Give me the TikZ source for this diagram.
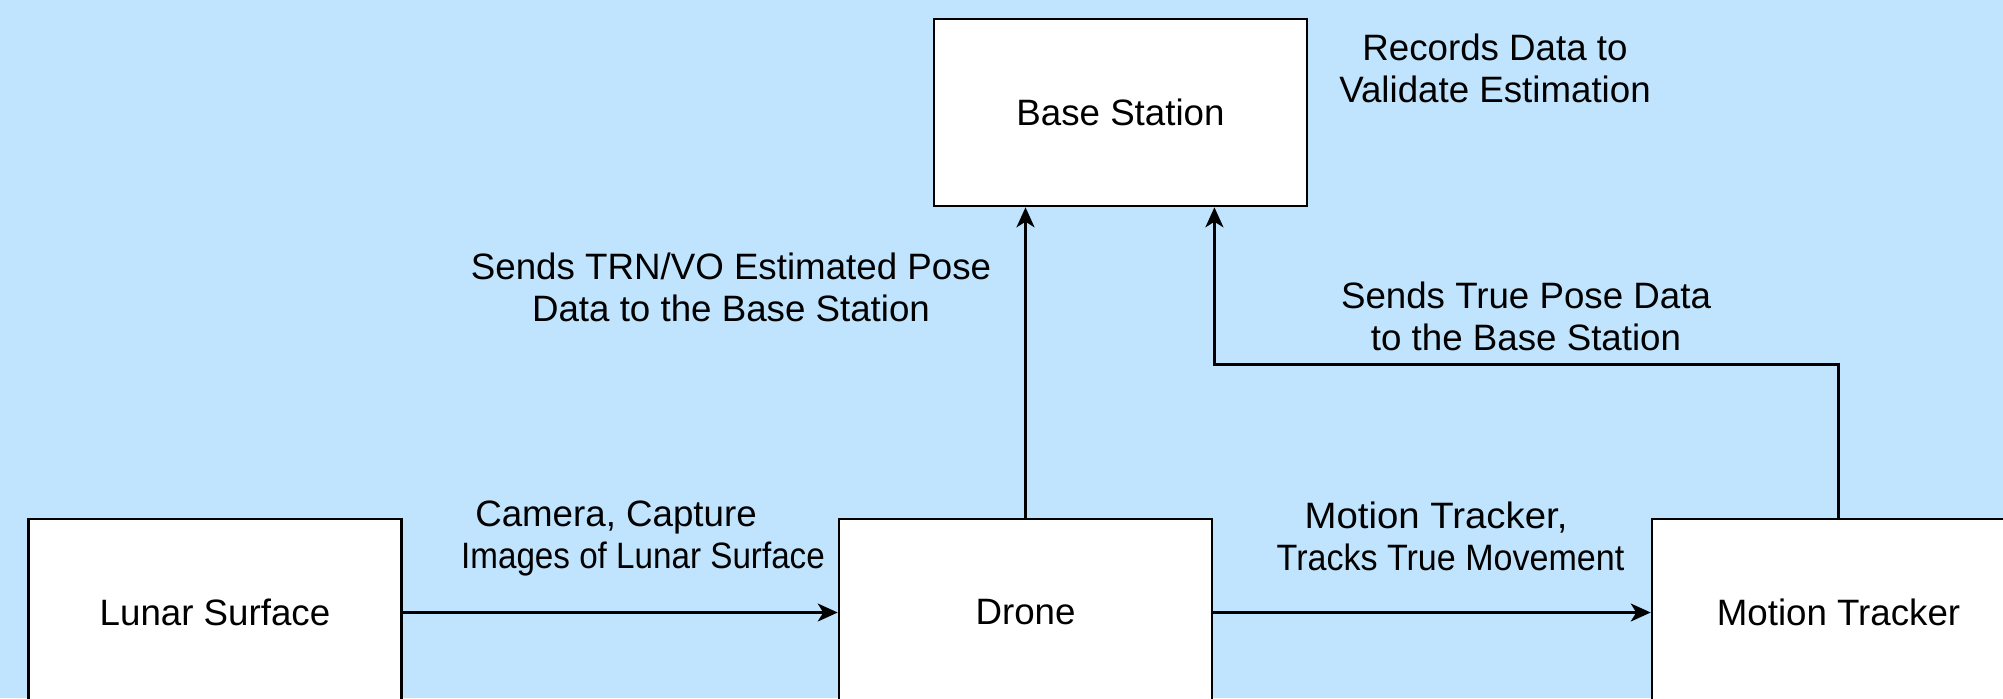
\documentclass[tikz,border=0pt]{standalone}
\usepackage{fontspec}
\usepackage{graphicx}
\setmainfont{Liberation Sans}
\usetikzlibrary{arrows.meta,calc}
\definecolor{bgblue}{RGB}{192,228,253}
\begin{document}
\begin{tikzpicture}[x=0.5pt,y=-0.5pt,
  box/.style={draw=black,fill=white,line width=1.3pt,inner sep=0pt,
    minimum width=186.5pt,minimum height=93.5pt,
    font=\fontsize{18.35pt}{21pt}\selectfont},
  lbl/.style={align=center,inner sep=0pt,font=\fontsize{18.35pt}{21pt}\selectfont},
  conn/.style={line width=1.2pt,-{Stealth[length=10pt,width=9pt,inset=2.8pt]}}]
\fill[bgblue] (0,0) rectangle (2003,698);
\useasboundingbox (0,0) rectangle (2003,698);
\node[box] (base) at (1120.5,112.5) {Base Station};
\node[box] (lunar) at (215,612.5) {Lunar Surface};
\node[box] (drone) at (1025.5,612.5) {Drone};
\node[box] (mt) at (1838.5,612.5) {Motion Tracker};
\node[lbl] (rec) at (1495,68) {Records Data to\\Validate Estimation};
\node[lbl] (est) at (731,287) {Sends TRN/VO Estimated Pose\\Data to the Base Station};
\node[lbl] (tru) at (1526,316.5) {Sends True Pose Data\\to the Base Station};
\node[lbl] (cam) at (643,538.5) {Camera, Capture\hbox to 27pt{}\\\scalebox{0.905}[1]{Images of Lunar Surface}};
\node[lbl] (trk) at (1450.5,536) {\scalebox{1.045}[1]{Motion Tracker,}\hbox to 14.5pt{}\\\scalebox{0.928}[1]{Tracks True Movement}};
\draw[conn] (lunar.east) -- (drone.west);
\draw[conn] (drone.east) -- (mt.west);
\draw[conn] (drone.north) -- (drone.north |- base.south);
\coordinate (turn) at ($(base.south)!0.5!(base.south east)+(0,157)$);
\draw[conn] (mt.north) |- (turn) -- (turn |- base.south);
\end{tikzpicture}
\end{document}
